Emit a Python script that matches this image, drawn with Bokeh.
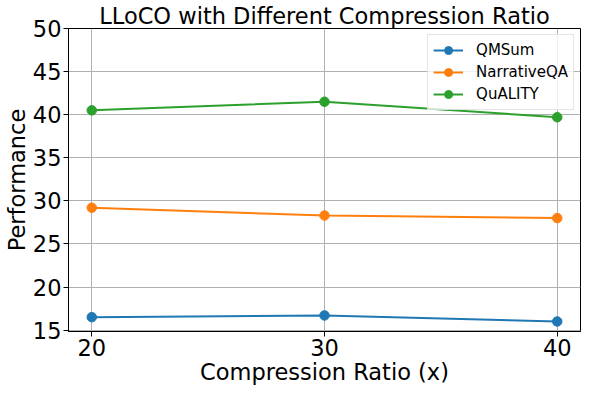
from bokeh.plotting import figure
from bokeh.models import Range1d, FixedTicker, Legend, LegendItem
from bokeh.embed import file_html
from bokeh.resources import INLINE

ratios = [20, 30, 40]
qmsum = [16.5, 16.7, 16.0]
narrativeqa = [29.2, 28.3, 28.0]
quality = [40.5, 41.5, 39.7]
series_names = ["QMSum", "NarrativeQA", "QuALITY"]
colors = ["#1f77b4", "#ff7f0e", "#2ca02c"]
x_ticks = [20, 30, 40]
y_ticks = [15, 20, 25, 30, 35, 40, 45, 50]

FONT = "DejaVu Sans"
BIG = "22.5px"

p = figure(width=581, height=387, output_backend="svg", toolbar_location=None,
           x_range=Range1d(19, 41), y_range=Range1d(14.84, 50),
           title="LLoCO with Different Compression Ratio",
           min_border_left=0, min_border_right=1, min_border_top=0, min_border_bottom=0)

p.title.text_font = FONT
p.title.text_font_size = BIG
p.title.text_font_style = "normal"
p.title.align = "center"
p.title.standoff = 0
p.title.text_color = "#000000"

p.outline_line_color = "#000000"
p.outline_line_width = 1
p.outline_line_alpha = 1.0
p.background_fill_color = "white"
p.border_fill_color = "white"

for ax in (p.xaxis[0], p.yaxis[0]):
    ax.major_label_text_font = FONT
    ax.major_label_text_font_size = BIG
    ax.major_label_text_color = "#000000"
    ax.axis_label_text_font = FONT
    ax.axis_label_text_font_size = BIG
    ax.axis_label_text_font_style = "normal"
    ax.axis_label_text_color = "#000000"
    ax.axis_line_color = "#000000"
    ax.major_tick_line_color = "#000000"
    ax.major_tick_out = 5
    ax.major_tick_in = 0
    ax.minor_tick_line_color = None
    ax.major_label_standoff = 2
    ax.axis_label_standoff = 0

p.xaxis.axis_label = "Compression Ratio (x)"
p.yaxis.axis_label = "Performance"
p.xaxis.ticker = FixedTicker(ticks=x_ticks)
p.yaxis.ticker = FixedTicker(ticks=y_ticks)

p.xgrid.ticker = FixedTicker(ticks=x_ticks)
p.ygrid.ticker = FixedTicker(ticks=y_ticks)
for g in (p.xgrid[0], p.ygrid[0]):
    g.grid_line_color = "#b0b0b0"
    g.grid_line_width = 1

items = []
for name, vals, c in zip(series_names, [qmsum, narrativeqa, quality], colors):
    l = p.line(ratios, vals, line_color=c, line_width=2)
    s = p.scatter(ratios, vals, size=9.5, fill_color=c, line_color=c)
    items.append(LegendItem(label=name, renderers=[l, s]))

legend = Legend(items=items, location="top_right")
legend.label_text_font = FONT
legend.label_text_font_size = "15px"
legend.label_text_color = "#000000"
legend.border_line_color = "#cccccc"
legend.border_line_width = 1
legend.background_fill_alpha = 0.8
legend.glyph_width = 30
legend.glyph_height = 20
legend.label_height = 20
legend.label_standoff = 13
legend.spacing = 2
legend.padding = 5
legend.margin = 6
p.add_layout(legend)

open("out.html", "w").write(file_html(p, INLINE))
